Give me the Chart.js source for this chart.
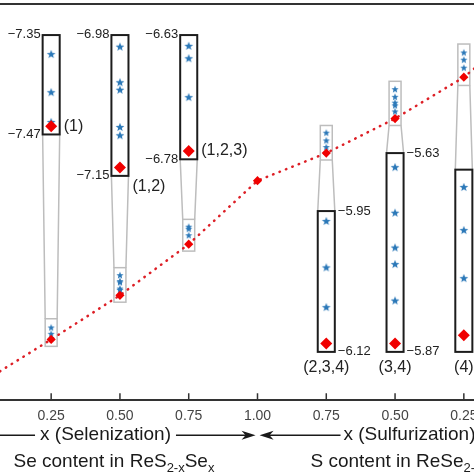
<!DOCTYPE html>
<html>
<head>
<meta charset="utf-8">
<script src="https://cdn.jsdelivr.net/npm/chart.js@4.4.1/dist/chart.umd.min.js"></script>
<style>
  html, body { margin: 0; padding: 0; background: #fff; }
  #wrap { position: relative; width: 474px; height: 474px; overflow: hidden; }
  #chart { position: absolute; left: -52px; top: 0; }
</style>
</head>
<body>
<div id="wrap"><canvas id="chart" width="619" height="474"></canvas></div>
<script>
// composition steps: selenization of ReS2 (left) then sulfurization of ReSe2 (right)
const positions = [0, 1, 2, 3, 4, 5, 6, 7, 8];
const tickLabels = ['0.00', '0.25', '0.50', '0.75', '1.00', '0.75', '0.50', '0.25', '0.00'];
const vbmValues = [-7.77, -7.46, -7.14, -6.77, -6.31, -6.11, -5.86, -5.56, -5.15];

// zoomed windows
const insetAt = [1, 2, 3, 5, 6, 7];
const insetTop = [-7.35, -6.98, -6.63, -5.95, -5.63, -5.36];
const insetBottom = [-7.47, -7.15, -6.78, -6.12, -5.87, -5.58];
const insetStars = [
  [-7.373, -7.419, -7.455],
  [-6.994, -7.037, -7.046, -7.091, -7.101],
  [-6.643, -6.658, -6.705],
  [-5.962, -6.018, -6.066],
  [-5.647, -5.702, -5.744, -5.764, -5.808],
  [-5.381, -5.433, -5.491]
];
const insetTags = ['(1)', '(1,2)', '(1,2,3)', '(2,3,4)', '(3,4)', '(4)'];

// layout of the zoom boxes (main axis units)
const MAG = 6;
const SE_BOX_TOP = -5.255;
const S_BOX_BOTTOM = -7.55;
const ZOOM_HALF = 0.124;
const GREY_HALF = 0.087;
const GREY_PAD = 0.04;
const TAG_DROP = [0, 19, 0];

const RED = '#f00000';
const DOT_RED = '#dd1f26';
const BLUE = '#2b78b8';
const FONT = '"Liberation Sans", Arial, sans-serif';

const isSe = i => insetAt[i] < 4;
function zoomed(i, v) {
  return isSe(i) ? SE_BOX_TOP - (insetTop[i] - v) * MAG : S_BOX_BOTTOM + (v - insetBottom[i]) * MAG;
}

function starImage(r, color) {
  const s = Math.ceil(r * 2 + 2);
  const c = document.createElement('canvas');
  c.width = s; c.height = s;
  const g = c.getContext('2d');
  g.fillStyle = color;
  g.beginPath();
  for (let k = 0; k < 10; k++) {
    const rr = k % 2 ? r * 0.42 : r;
    const a = -Math.PI / 2 + k * Math.PI / 5;
    g.lineTo(s / 2 + rr * Math.cos(a), s / 2 + rr * Math.sin(a) + r * 0.08);
  }
  g.closePath();
  g.fill();
  return c;
}

const smallStars = [], bigStars = [], bigDiamonds = [];
insetAt.forEach((p, i) => {
  insetStars[i].forEach(v => {
    smallStars.push({ x: p, y: v });
    bigStars.push({ x: p, y: zoomed(i, v) });
  });
  bigDiamonds.push({ x: p, y: zoomed(i, vbmValues[p]) });
});
const mainPoints = positions.map((p, i) => ({ x: p, y: vbmValues[i] }));

function drawSubText(ctx, parts, x, y) {
  parts.forEach(([txt, sub]) => {
    ctx.font = (sub ? '13px ' : '19px ') + FONT;
    ctx.fillText(txt, x, sub ? y + 5 : y);
    x += ctx.measureText(txt).width;
  });
}

function arrowHead(ctx, tip, y, dir) {
  ctx.beginPath();
  ctx.moveTo(tip, y);
  ctx.lineTo(tip - dir * 14, y - 4.5);
  ctx.lineTo(tip - dir * 10, y);
  ctx.lineTo(tip - dir * 14, y + 4.5);
  ctx.closePath();
  ctx.fill();
}

const insetPlugin = {
  id: 'insets',
  beforeDatasetsDraw(chart) {
    const { ctx, scales: { x, y } } = chart;
    ctx.save();
    insetAt.forEach((p, i) => {
      const gx0 = x.getPixelForValue(p - GREY_HALF), gx1 = x.getPixelForValue(p + GREY_HALF);
      const gy0 = y.getPixelForValue(insetTop[i] + GREY_PAD), gy1 = y.getPixelForValue(insetBottom[i] - GREY_PAD);
      const bx0 = x.getPixelForValue(p - ZOOM_HALF), bx1 = x.getPixelForValue(p + ZOOM_HALF);
      const by0 = y.getPixelForValue(zoomed(i, insetTop[i])), by1 = y.getPixelForValue(zoomed(i, insetBottom[i]));
      ctx.strokeStyle = '#bdbdbd';
      ctx.lineWidth = 1.5;
      ctx.strokeRect(gx0, gy0, gx1 - gx0, gy1 - gy0);
      ctx.beginPath();
      if (isSe(i)) {
        ctx.moveTo(bx0, by1); ctx.lineTo(gx0, gy0);
        ctx.moveTo(bx1, by1); ctx.lineTo(gx1, gy0);
      } else {
        ctx.moveTo(gx0, gy1); ctx.lineTo(bx0, by0);
        ctx.moveTo(gx1, gy1); ctx.lineTo(bx1, by0);
      }
      ctx.stroke();
      ctx.strokeStyle = '#1c1c1c';
      ctx.lineWidth = 2;
      ctx.strokeRect(bx0, by0, bx1 - bx0, by1 - by0);
    });
    ctx.restore();
  },
  afterDatasetsDraw(chart) {
    const { ctx, scales: { x, y } } = chart;
    const fmt = v => v.toFixed(2).replace('-', '\u2212');
    ctx.save();
    ctx.fillStyle = '#222';
    ctx.textBaseline = 'middle';
    insetAt.forEach((p, i) => {
      const bx0 = x.getPixelForValue(p - ZOOM_HALF), bx1 = x.getPixelForValue(p + ZOOM_HALF);
      const by0 = y.getPixelForValue(zoomed(i, insetTop[i])), by1 = y.getPixelForValue(zoomed(i, insetBottom[i]));
      ctx.font = '13px ' + FONT;
      if (isSe(i)) {
        ctx.textAlign = 'right';
        ctx.fillText(fmt(insetTop[i]), bx0 - 2, by0 - 1);
        ctx.fillText(fmt(insetBottom[i]), bx0 - 2, by1);
        ctx.font = '16px ' + FONT;
        ctx.textAlign = 'left';
        const dy = y.getPixelForValue(zoomed(i, vbmValues[p]));
        ctx.fillText(insetTags[i], bx1 + 4, dy + TAG_DROP[i]);
      } else {
        ctx.textAlign = 'left';
        ctx.fillText(fmt(insetTop[i]), bx1 + 3, by0);
        ctx.fillText(fmt(insetBottom[i]), bx1 + 3, by1);
        ctx.font = '16px ' + FONT;
        ctx.textAlign = 'center';
        ctx.fillText(insetTags[i], x.getPixelForValue(p), by1 + 16);
      }
    });
    ctx.restore();
  },
  afterDraw(chart) {
    const { ctx, chartArea: a, scales: { x } } = chart;
    ctx.save();
    ctx.strokeStyle = '#333';
    ctx.lineWidth = 2;
    ctx.beginPath();
    ctx.moveTo(a.left, a.top);
    ctx.lineTo(a.right, a.top);
    ctx.stroke();
    // inward tick marks
    ctx.lineWidth = 1.5;
    ctx.beginPath();
    x.ticks.forEach(t => {
      const px = x.getPixelForValue(t.value);
      ctx.moveTo(px, a.bottom);
      ctx.lineTo(px, a.bottom - 7);
    });
    ctx.stroke();

    // direction row
    const rowY = a.bottom + 35;
    ctx.fillStyle = '#1a1a1a';
    ctx.strokeStyle = '#1a1a1a';
    ctx.font = '19px ' + FONT;
    ctx.textBaseline = 'middle';
    ctx.textAlign = 'center';
    const leftTxt = 'x (Selenization)', rightTxt = 'x (Sulfurization)';
    const lc = x.getPixelForValue(1.79), rc = x.getPixelForValue(6.21);
    const lw = ctx.measureText(leftTxt).width, rw = ctx.measureText(rightTxt).width;
    ctx.fillText(leftTxt, lc, rowY);
    ctx.fillText(rightTxt, rc, rowY);
    const tipL = x.getPixelForValue(3.972), tipR = x.getPixelForValue(4.03);
    ctx.lineWidth = 1.5;
    ctx.beginPath();
    ctx.moveTo(a.left, rowY); ctx.lineTo(lc - lw / 2 - 5, rowY);
    ctx.moveTo(lc + lw / 2 + 5, rowY); ctx.lineTo(tipL - 9, rowY);
    ctx.moveTo(tipR + 9, rowY); ctx.lineTo(rc - rw / 2 - 3, rowY);
    ctx.moveTo(rc + rw / 2 + 3, rowY); ctx.lineTo(a.right, rowY);
    ctx.stroke();
    arrowHead(ctx, tipL, rowY, 1);
    arrowHead(ctx, tipR, rowY, -1);

    // composition row
    ctx.textAlign = 'left';
    ctx.textBaseline = 'alphabetic';
    const baseY = a.bottom + 67;
    drawSubText(ctx, [['Se content in ReS', false], ['2-x', true], ['Se', false], ['x', true]], x.getPixelForValue(0.452), baseY);
    drawSubText(ctx, [['S content in ReSe', false], ['2-x', true], ['S', false], ['x', true]], x.getPixelForValue(4.77), baseY);
    ctx.restore();
  }
};

new Chart(document.getElementById('chart'), {
  type: 'scatter',
  data: {
    datasets: [
      { data: mainPoints, showLine: true, borderColor: DOT_RED, borderWidth: 2.5, borderDash: [0.5, 6.4],
        borderCapStyle: 'round', pointRadius: 0, order: 4 },
      { data: smallStars, pointStyle: starImage(3.8, BLUE), pointRadius: 3, order: 3 },
      { data: bigStars, pointStyle: starImage(4.6, BLUE), pointRadius: 3, order: 3 },
      { data: mainPoints, pointStyle: 'rectRot', pointRadius: 4.6, backgroundColor: RED, borderWidth: 0, order: 1 },
      { data: bigDiamonds, pointStyle: 'rectRot', pointRadius: 6, backgroundColor: RED, borderWidth: 0, order: 1 }
    ]
  },
  options: {
    responsive: false,
    animation: false,
    events: [],
    layout: { autoPadding: false, padding: { top: 4, bottom: 41, left: 0, right: 0 } },
    plugins: { legend: { display: false }, tooltip: { enabled: false } },
    scales: {
      x: {
        type: 'linear', min: -0.5, max: 8.5,
        afterBuildTicks: s => { s.ticks = [1, 2, 3, 4, 5, 6, 7].map(v => ({ value: v })); },
        ticks: { callback: v => tickLabels[v], color: '#444', font: { family: FONT, size: 14 },
                 padding: 8, autoSkip: false, maxRotation: 0 },
        grid: { display: false, drawTicks: false },
        border: { display: true, color: '#333', width: 2 }
      },
      y: { display: false, min: -7.9, max: -5.03 }
    }
  },
  plugins: [insetPlugin]
});
</script>
</body>
</html>
